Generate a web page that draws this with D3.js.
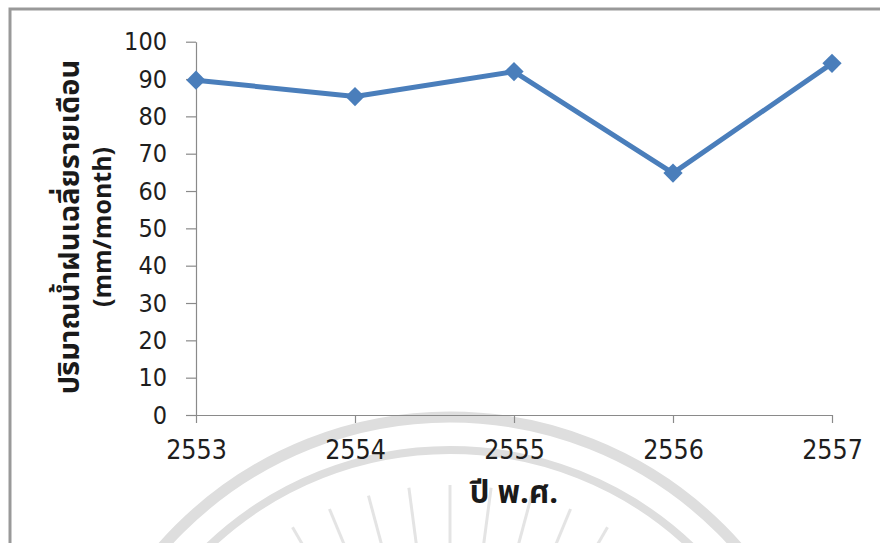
<!DOCTYPE html>
<html>
<head>
<meta charset="utf-8">
<script src="https://cdn.jsdelivr.net/npm/d3@7"></script>
<style>
  html, body { margin: 0; padding: 0; background: #fff; }
  svg { display: block; }
</style>
</head>
<body>
<svg id="chart" width="880" height="543"></svg>
<script>
// Average monthly rainfall by Buddhist-era year
const years = ["2553", "2554", "2555", "2556", "2557"];
const rainfall = [89.7, 85.3, 92.0, 64.8, 94.2];
const yTickValues = [0, 10, 20, 30, 40, 50, 60, 70, 80, 90, 100];
const yTitleLines = ["ปริมาณน้ำฝนเฉลี่ยรายเดือน", "(mm/month)"];
const xTitle = "ปี พ.ศ.";

const W = 880, H = 543;
const svg = d3.select("#chart");

const x = d3.scalePoint().domain(years).range([196, 832]);
const y = d3.scaleLinear().domain([0, 100]).range([415, 41.7]);

const tickFont = "'DejaVu Sans Condensed', 'DejaVu Sans', sans-serif";
const titleFont = "Tahoma, 'Noto Sans Thai', 'Noto Sans', 'DejaVu Sans', sans-serif";

// faint seal in the background
const seal = svg.append("g").attr("fill", "none").attr("stroke", "#dedede");
const cx = 450, cy = 800;
seal.append("circle").attr("cx", cx).attr("cy", cy).attr("r", 383).attr("stroke-width", 11);
seal.append("circle").attr("cx", cx).attr("cy", cy).attr("r", 350).attr("stroke-width", 8);
const rayAngles = d3.range(-45, 46, 7.5);
seal.selectAll("line.ray").data(rayAngles).join("line")
  .attr("class", "ray")
  .attr("stroke", "#e4e4e4")
  .attr("stroke-width", 3)
  .attr("x1", a => cx + 250 * Math.sin(a * Math.PI / 180))
  .attr("y1", a => cy - 250 * Math.cos(a * Math.PI / 180))
  .attr("x2", a => cx + 315 * Math.sin(a * Math.PI / 180))
  .attr("y2", a => cy - 315 * Math.cos(a * Math.PI / 180));

// frame edges (top and left)
svg.append("path")
  .attr("d", `M10,${H} L10,9 L${W},9`)
  .attr("fill", "none").attr("stroke", "#999").attr("stroke-width", 3);

// axes
const yAxis = svg.append("g")
  .attr("transform", `translate(${x(years[0])},0)`)
  .call(d3.axisLeft(y).tickValues(yTickValues).tickSize(10).tickSizeOuter(0).tickPadding(19));
const xAxis = svg.append("g")
  .attr("transform", `translate(0,${y(0)})`)
  .call(d3.axisBottom(x).tickSize(8).tickSizeOuter(0).tickPadding(17));

[yAxis, xAxis].forEach(g => {
  g.selectAll(".domain, .tick line").attr("stroke", "#8a8a8a").attr("stroke-width", 1.2);
  g.selectAll(".tick text").attr("fill", "#1e1e1e").attr("font-family", tickFont);
});
yAxis.selectAll(".tick text").attr("font-size", 25);
xAxis.selectAll(".tick text").attr("font-size", 26.5);

// series line and diamond markers
const pts = years.map((yr, i) => [x(yr), y(rainfall[i])]);
svg.append("path")
  .attr("d", d3.line()(pts))
  .attr("fill", "none")
  .attr("stroke", "#4a7ebb")
  .attr("stroke-width", 5)
  .attr("stroke-linejoin", "round");
svg.selectAll("path.marker").data(pts).join("path")
  .attr("class", "marker")
  .attr("d", d3.symbol(d3.symbolSquare, 185))
  .attr("transform", d => `translate(${d[0]},${d[1]}) rotate(45)`)
  .attr("fill", "#4a7ebb");

// axis titles
svg.append("text")
  .attr("x", x(years[2])).attr("y", 503)
  .attr("text-anchor", "middle")
  .attr("font-family", titleFont).attr("font-weight", "bold")
  .attr("font-size", 31).attr("fill", "#1a1a1a")
  .text(xTitle);

const yt = svg.append("text")
  .attr("transform", "translate(0,227) rotate(-90)")
  .attr("text-anchor", "middle")
  .attr("font-family", titleFont).attr("font-weight", "bold")
  .attr("fill", "#1a1a1a");
yt.append("tspan").attr("x", 0).attr("y", 79).attr("font-size", 29).text(yTitleLines[0]);
yt.append("tspan").attr("x", 0).attr("y", 111).attr("font-size", 25).text(yTitleLines[1]);
</script>
</body>
</html>
